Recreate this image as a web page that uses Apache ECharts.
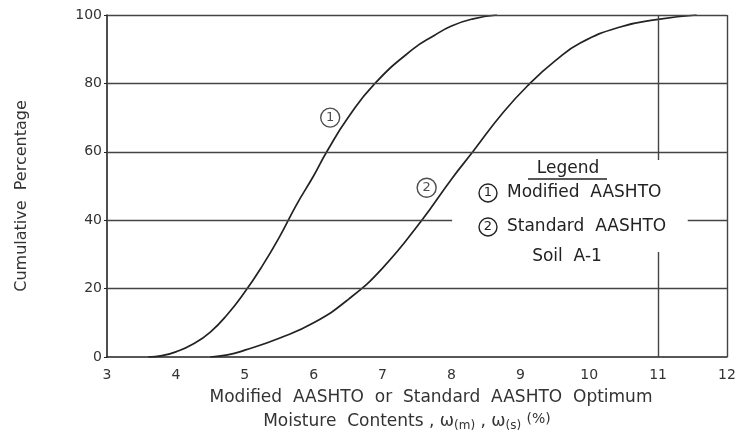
<!DOCTYPE html>
<html>
<head>
<meta charset="utf-8">
<script src="https://cdn.jsdelivr.net/npm/echarts@6/dist/echarts.min.js"></script>
<style>
  html, body { margin: 0; padding: 0; background: #fff; }
  #chart { width: 739px; height: 436px; }
</style>
</head>
<body>
<div id="chart"></div>
<script>
var dom = document.getElementById('chart');
var myChart = echarts.init(dom, null, { renderer: 'canvas' });

// curve 1: Modified AASHTO  [moisture %, cumulative %]
var modifiedCurve = [
  [3.6, 0], [3.8, 0.4], [4, 1.5], [4.25, 3.8], [4.5, 7.3], [4.75, 12.5],
  [5, 19], [5.25, 26.5], [5.5, 35], [5.75, 44.5], [6, 53],
  [6.19, 60], [6.5, 70], [6.89, 80], [7.44, 90], [7.75, 94],
  [8, 96.8], [8.3, 98.8], [8.66, 100]
];
// curve 2: Standard AASHTO
var standardCurve = [
  [4.5, 0], [4.75, 0.6], [5, 2], [5.5, 5.5], [6, 10],
  [6.5, 16.8], [7, 26], [7.57, 40],
  [8, 52], [8.31, 60], [8.75, 71.5], [9.14, 80], [9.5, 86.5],
  [9.87, 91.8], [10.45, 96.5], [11, 98.7], [11.56, 100]
];
// circled curve numbers on the plot
var curveTags = [[6.24, 70, '1'], [7.64, 49.5, '2']];

var xTicks = [3, 4, 5, 6, 7, 8, 9, 10, 11, 12];
var yTicks = [0, 20, 40, 60, 80, 100];

// grid line pieces (the drawing has gaps around the legend)
var gridSegments = [
  [[3, 20], [12, 20]],
  [[3, 40], [8.01, 40]],
  [[11.43, 40], [12, 40]],
  [[3, 60], [12, 60]],
  [[3, 80], [12, 80]],
  [[3, 100], [12, 100]],
  [[11, 100], [11, 57.6]],
  [[11, 30.7], [11, 0]],
  [[12, 0], [12, 100]]
];

var ink = '#222';
var font = 'DejaVu Sans';

var option = {
  animation: false,
  backgroundColor: '#fff',
  grid: { left: 107, right: 12, top: 15, bottom: 79 },
  xAxis: {
    type: 'value',
    min: xTicks[0],
    max: xTicks[xTicks.length - 1],
    interval: 1,
    axisLine: { show: true, onZero: false, lineStyle: { color: ink, width: 1.6 } },
    axisTick: { show: false },
    splitLine: { show: false },
    axisLabel: { color: '#333', fontSize: 14, fontFamily: font, margin: 11 }
  },
  yAxis: {
    type: 'value',
    min: yTicks[0],
    max: yTicks[yTicks.length - 1],
    interval: 20,
    axisLine: { show: true, lineStyle: { color: ink, width: 1.6 } },
    axisTick: { show: true, length: 3, lineStyle: { color: ink } },
    splitLine: { show: false },
    axisLabel: { color: '#333', fontSize: 14, fontFamily: font, margin: 5 }
  },
  series: [
    {
      type: 'line',
      data: [],
      silent: true,
      markLine: {
        symbol: 'none',
        silent: true,
        label: { show: false },
        lineStyle: { color: '#444', width: 1.4, type: 'solid' },
        data: gridSegments.map(function (s) {
          return [{ coord: s[0] }, { coord: s[1] }];
        })
      }
    },
    {
      name: 'Modified AASHTO',
      type: 'line',
      data: modifiedCurve,
      smooth: 0.5,
      showSymbol: false,
      lineStyle: { color: ink, width: 1.7 }
    },
    {
      name: 'Standard AASHTO',
      type: 'line',
      data: standardCurve,
      smooth: 0.5,
      showSymbol: false,
      lineStyle: { color: ink, width: 1.7 }
    },
    {
      type: 'scatter',
      data: curveTags,
      symbol: 'circle',
      symbolSize: 19,
      itemStyle: { color: '#fff', borderColor: ink, borderWidth: 1.4 },
      label: {
        show: true,
        position: 'inside',
        formatter: function (p) { return p.value[2]; },
        color: ink,
        fontSize: 13,
        fontFamily: font
      }
    }
  ],
  graphic: [
    {
      type: 'text',
      x: 22, y: 196,
      rotation: Math.PI / 2,
      style: {
        text: 'Cumulative  Percentage',
        fill: '#333', font: '16px "DejaVu Sans"',
        align: 'center', verticalAlign: 'middle'
      }
    },
    {
      type: 'text',
      x: 431, y: 398,
      style: {
        text: 'Modified  AASHTO  or  Standard  AASHTO  Optimum',
        fill: '#333', font: '17px "DejaVu Sans"',
        align: 'center', verticalAlign: 'middle'
      }
    },
    {
      type: 'text',
      x: 407, y: 422,
      style: {
        text: 'Moisture  Contents , ω{sub|(m)} , ω{sub|(s)} {sup|(%)}',
        fill: '#333', font: '17px "DejaVu Sans"',
        align: 'center', verticalAlign: 'middle',
        rich: {
          sub: { fontSize: 12, fontFamily: font, fill: '#333', padding: [8, 0, 0, 0] },
          sup: { fontSize: 14, fontFamily: font, fill: '#333', padding: [0, 0, 6, 0] }
        }
      }
    },
    // legend block
    {
      type: 'text',
      x: 568, y: 169,
      style: {
        text: 'Legend', fill: ink, font: '17px "DejaVu Sans"',
        align: 'center', verticalAlign: 'middle'
      }
    },
    {
      type: 'line',
      shape: { x1: 528, y1: 179, x2: 607, y2: 179 },
      style: { stroke: ink, lineWidth: 1.5 }
    },
    {
      type: 'circle',
      shape: { cx: 488, cy: 193, r: 9 },
      style: { fill: '#fff', stroke: ink, lineWidth: 1.4 }
    },
    {
      type: 'text',
      x: 488, y: 193,
      style: { text: '1', fill: ink, font: '13px "DejaVu Sans"', align: 'center', verticalAlign: 'middle' }
    },
    {
      type: 'text',
      x: 507, y: 193,
      style: { text: 'Modified  AASHTO', fill: ink, font: '17px "DejaVu Sans"', verticalAlign: 'middle' }
    },
    {
      type: 'circle',
      shape: { cx: 488, cy: 227, r: 9 },
      style: { fill: '#fff', stroke: ink, lineWidth: 1.4 }
    },
    {
      type: 'text',
      x: 488, y: 227,
      style: { text: '2', fill: ink, font: '13px "DejaVu Sans"', align: 'center', verticalAlign: 'middle' }
    },
    {
      type: 'text',
      x: 507, y: 227,
      style: { text: 'Standard  AASHTO', fill: ink, font: '17px "DejaVu Sans"', verticalAlign: 'middle' }
    },
    {
      type: 'text',
      x: 567, y: 257,
      style: {
        text: 'Soil  A-1', fill: ink, font: '17px "DejaVu Sans"',
        align: 'center', verticalAlign: 'middle'
      }
    }
  ]
};

myChart.setOption(option);
window.addEventListener('resize', myChart.resize);
</script>
</body>
</html>
